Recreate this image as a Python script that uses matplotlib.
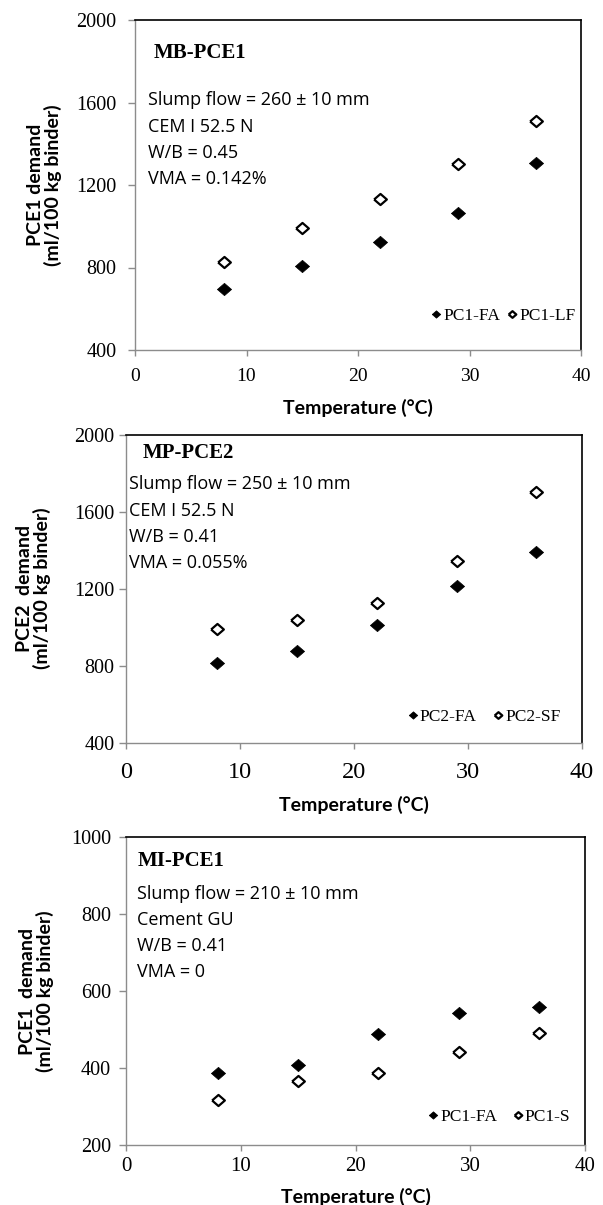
import matplotlib
matplotlib.use('Agg')
import matplotlib.pyplot as plt

# ---------------- data ----------------
temps = [8, 15, 22, 29, 36]
mb_fa = [695, 805, 925, 1065, 1305]
mb_lf = [828, 990, 1134, 1302, 1512]
mp_fa = [813, 877, 1011, 1212, 1389]
mp_sf = [990, 1035, 1126, 1342, 1700]
mi_fa = [387, 408, 489, 542, 559]
mi_s = [318, 366, 387, 442, 490]

x_ticks = [0, 10, 20, 30, 40]
y_ticks_12 = [400, 800, 1200, 1600, 2000]
y_ticks_3 = [200, 400, 600, 800, 1000]

titles = ["MB-PCE1", "MP-PCE2", "MI-PCE1"]
notes = [
    ["Slump flow = 260 \u00b1 10 mm", "CEM I 52.5 N", "W/B = 0.45", "VMA = 0.142%"],
    ["Slump flow = 250 \u00b1 10 mm", "CEM I 52.5 N", "W/B = 0.41", "VMA = 0.055%"],
    ["Slump flow = 210 \u00b1 10 mm", "Cement GU", "W/B = 0.41", "VMA = 0"],
]
series_labels = [("PC1-FA", "PC1-LF"), ("PC2-FA", "PC2-SF"), ("PC1-FA", "PC1-S")]
ylabels = ["PCE1 demand\n(ml/100 kg binder)",
           "PCE2  demand\n(ml/100 kg binder)",
           "PCE1  demand\n(ml/100 kg binder)"]
xlabel = "Temperature (\u00b0C)"

W, H = 603, 1205
fig = plt.figure(figsize=(W / 100, H / 100), dpi=100)

# layout (pixels): left, right, top, bottom
boxes = [(135, 581, 20, 350), (126, 582, 434.5, 742.5), (126, 585, 837, 1145)]
ylims = [(400, 2000), (400, 2000), (200, 1000)]
yticks = [y_ticks_12, y_ticks_12, y_ticks_3]
data = [(mb_fa, mb_lf), (mp_fa, mp_sf), (mi_fa, mi_s)]
title_pos = [(154, 53), (143, 453), (138, 861)]
note_x = [148, 129, 137]
note_y = [[100, 127, 153, 179], [484, 511, 537, 563], [894, 920, 946, 972]]
xtick_size = [14, 17.5, 15]
xtick_pad = [8.5, 9.5, 4]
ytick_pad = [8.4, 3.5, 6]
xlabel_y = [408, 805, 1197]
ylabel_x = [44.5, 33.8, 36.5]
leg_anchor = [(0.827, 0.1045), (0.786, 0.083), (0.814, 0.091)]
leg_colsp = [0.45, 1.0, 0.92]

serif = "Liberation Serif"
sans = "Lato"
note_font = "Open Sans"
gray = "#8c8c8c"

# diamond slightly wider than tall, as in the reference
diamond = [(-1.15, 0.0), (0.0, 1.0), (1.15, 0.0), (0.0, -1.0), (-1.15, 0.0)]

for i in range(3):
    l, r, t, b = boxes[i]
    ax = fig.add_axes([l / W, 1 - b / H, (r - l) / W, (b - t) / H])
    fa, other = data[i]
    ax.plot(temps, fa, linestyle="none", marker=diamond, ms=10.2, mfc="black",
            mec="black", mew=0.5, label=series_labels[i][0], zorder=3)
    ax.plot(temps, other, linestyle="none", marker=diamond, ms=9.2, mfc="white",
            mec="black", mew=1.6, label=series_labels[i][1], zorder=3)
    ax.set_xlim(0, 40)
    ax.set_ylim(*ylims[i])
    ax.set_xticks(x_ticks)
    ax.set_yticks(yticks[i])
    for lab in ax.get_xticklabels():
        lab.set_fontfamily(serif)
        lab.set_fontsize(xtick_size[i])
    for lab in ax.get_yticklabels():
        lab.set_fontfamily(serif)
        lab.set_fontsize(14.5)
    ax.tick_params(axis="x", direction="out", length=4.5, width=1, color=gray,
                   pad=xtick_pad[i])
    ax.tick_params(axis="y", direction="out", length=4.8, width=1, color=gray,
                   pad=ytick_pad[i])
    ax.spines["left"].set_color(gray)
    ax.spines["bottom"].set_color(gray)
    ax.spines["left"].set_linewidth(1.0)
    ax.spines["bottom"].set_linewidth(1.0)
    ax.spines["top"].set_color("black")
    ax.spines["right"].set_color("black")
    ax.spines["top"].set_linewidth(1.2)
    ax.spines["right"].set_linewidth(1.2)

    ax.set_xlabel(xlabel, fontfamily=sans, fontweight="bold", fontsize=14)
    ax.xaxis.set_label_coords(0.5, (b - xlabel_y[i]) / (b - t))
    ax.xaxis.label.set_va("center")
    ax.set_ylabel(ylabels[i], fontfamily=sans, fontweight="bold", fontsize=14,
                  linespacing=1.02)
    ax.yaxis.set_label_coords((ylabel_x[i] - l) / (r - l), 0.5)
    ax.yaxis.label.set_va("center")

    tx, ty = title_pos[i]
    fig.text(tx / W, 1 - ty / H, titles[i], fontfamily=serif, fontweight="bold",
             fontsize=15, ha="left", va="center")
    for s, yy in zip(notes[i], note_y[i]):
        fig.text(note_x[i] / W, 1 - yy / H, s, fontfamily=note_font, fontsize=13,
                 ha="left", va="center")

    ax.legend(loc="center", bbox_to_anchor=leg_anchor[i], ncol=2,
              frameon=False, markerscale=0.6, handlelength=0.5,
              handletextpad=0.15, columnspacing=leg_colsp[i],
              borderaxespad=0, borderpad=0,
              prop={"family": serif, "size": 12.5})

fig.savefig("out.png", dpi=100)
